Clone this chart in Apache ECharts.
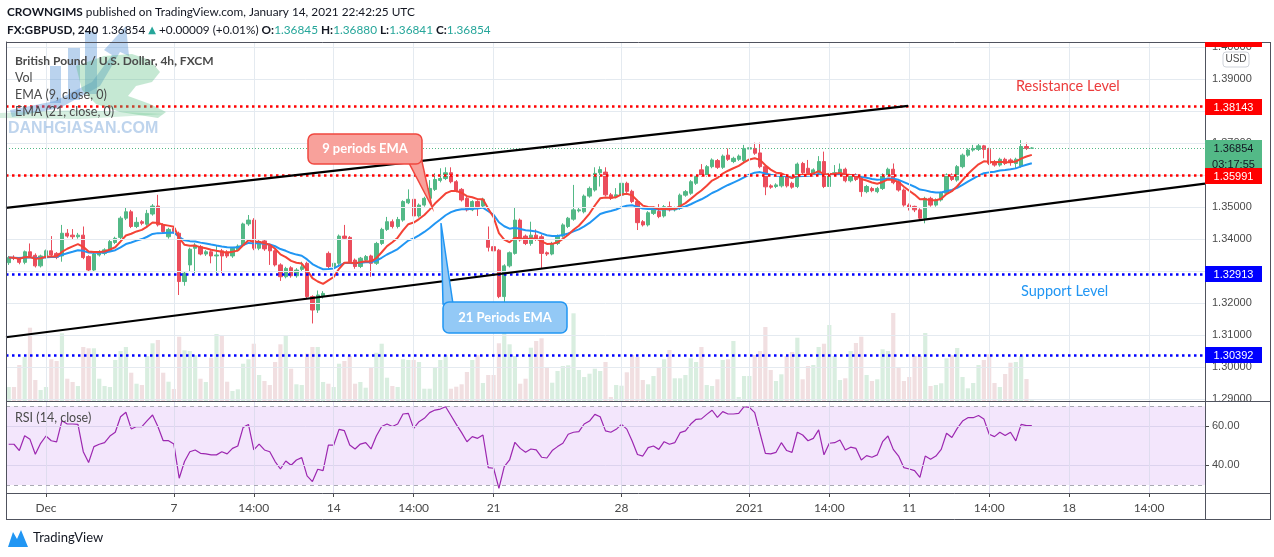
<!DOCTYPE html>
<html><head><meta charset="utf-8">
<script src="https://cdn.jsdelivr.net/npm/echarts@6/dist/echarts.min.js"></script>
<style>html,body{margin:0;padding:0;background:#fff;}#c{width:1274px;height:557px;}</style>
</head><body><div id="c"></div>
<script>
// ---------- DATA ----------
// 4h candles, [open, close, low, high]
const candles = [
[1.3327,1.3343,1.3320,1.3348],[1.3343,1.3340,1.3335,1.3350],[1.3341,1.3328,1.3322,1.3345],[1.3328,1.3361,1.3322,1.3365],[1.3361,1.3348,1.3344,1.3387],
[1.3350,1.3317,1.3312,1.3356],[1.3317,1.3348,1.3312,1.3352],[1.3346,1.3364,1.3340,1.3368],[1.3364,1.3351,1.3346,1.3410],[1.3356,1.3344,1.3338,1.3360],
[1.3348,1.3419,1.3330,1.3445],[1.3419,1.3410,1.3405,1.3432],[1.3413,1.3408,1.3400,1.3432],[1.3408,1.3413,1.3402,1.3420],[1.3413,1.3343,1.3338,1.3440],
[1.3346,1.3304,1.3298,1.3350],[1.3304,1.3354,1.3298,1.3358],[1.3351,1.3361,1.3346,1.3366],[1.3356,1.3367,1.3350,1.3372],[1.3364,1.3393,1.3360,1.3398],
[1.3390,1.3403,1.3385,1.3408],[1.3406,1.3466,1.3400,1.3472],[1.3466,1.3486,1.3460,1.3500],[1.3486,1.3440,1.3435,1.3492],[1.3440,1.3453,1.3435,1.3469],
[1.3455,1.3450,1.3444,1.3460],[1.3447,1.3481,1.3442,1.3492],[1.3479,1.3504,1.3474,1.3510],[1.3504,1.3445,1.3440,1.3539],[1.3445,1.3424,1.3418,1.3450],
[1.3408,1.3431,1.3402,1.3436],[1.3434,1.3424,1.3418,1.3440],[1.3419,1.3268,1.3226,1.3424],[1.3268,1.3294,1.3255,1.3300],[1.3320,1.3369,1.3300,1.3374],
[1.3372,1.3382,1.3294,1.3388],[1.3377,1.3354,1.3350,1.3382],[1.3354,1.3361,1.3348,1.3366],[1.3361,1.3348,1.3325,1.3366],[1.3348,1.3351,1.3294,1.3382],
[1.3364,1.3348,1.3294,1.3370],[1.3361,1.3348,1.3342,1.3366],[1.3348,1.3372,1.3342,1.3376],[1.3367,1.3379,1.3362,1.3384],[1.3382,1.3448,1.3378,1.3452],
[1.3448,1.3460,1.3442,1.3476],[1.3460,1.3372,1.3366,1.3466],[1.3372,1.3393,1.3366,1.3398],[1.3395,1.3370,1.3364,1.3400],[1.3382,1.3364,1.3320,1.3386],
[1.3364,1.3320,1.3315,1.3368],[1.3320,1.3283,1.3270,1.3325],[1.3283,1.3309,1.3278,1.3314],[1.3311,1.3286,1.3280,1.3316],[1.3286,1.3304,1.3280,1.3310],
[1.3306,1.3314,1.3300,1.3330],[1.3325,1.3221,1.3215,1.3330],[1.3221,1.3179,1.3137,1.3225],[1.3179,1.3226,1.3170,1.3240],[1.3221,1.3231,1.3215,1.3238],
[1.3356,1.3315,1.3310,1.3362],[1.3315,1.3325,1.3305,1.3330],[1.3325,1.3410,1.3320,1.3415],[1.3410,1.3403,1.3398,1.3445],[1.3406,1.3330,1.3325,1.3410],
[1.3335,1.3315,1.3308,1.3340],[1.3315,1.3341,1.3310,1.3345],[1.3335,1.3346,1.3330,1.3351],[1.3348,1.3325,1.3283,1.3352],[1.3325,1.3387,1.3320,1.3392],
[1.3387,1.3431,1.3382,1.3436],[1.3431,1.3455,1.3426,1.3470],[1.3455,1.3440,1.3434,1.3462],[1.3440,1.3462,1.3434,1.3470],[1.3460,1.3518,1.3455,1.3522],
[1.3514,1.3525,1.3510,1.3556],[1.3525,1.3473,1.3467,1.3530],[1.3473,1.3507,1.3468,1.3512],[1.3507,1.3528,1.3502,1.3533],[1.3528,1.3559,1.3523,1.3585],
[1.3556,1.3587,1.3551,1.3606],[1.3584,1.3590,1.3578,1.3622],[1.3590,1.3608,1.3585,1.3625],[1.3608,1.3580,1.3575,1.3625],[1.3580,1.3552,1.3547,1.3585],
[1.3556,1.3523,1.3518,1.3560],[1.3528,1.3492,1.3487,1.3532],[1.3492,1.3518,1.3488,1.3522],[1.3518,1.3502,1.3473,1.3522],[1.3504,1.3525,1.3498,1.3530],
[1.3398,1.3375,1.3362,1.3440],[1.3377,1.3364,1.3360,1.3382],[1.3366,1.3221,1.3216,1.3370],[1.3221,1.3317,1.3190,1.3322],[1.3317,1.3358,1.3312,1.3362],
[1.3356,1.3460,1.3352,1.3500],[1.3460,1.3398,1.3393,1.3465],[1.3410,1.3387,1.3382,1.3415],[1.3387,1.3413,1.3380,1.3455],[1.3413,1.3403,1.3395,1.3431],
[1.3408,1.3356,1.3310,1.3415],[1.3358,1.3354,1.3348,1.3362],[1.3354,1.3387,1.3350,1.3392],[1.3387,1.3410,1.3382,1.3415],[1.3410,1.3445,1.3405,1.3450],
[1.3440,1.3466,1.3435,1.3470],[1.3463,1.3492,1.3458,1.3570],[1.3489,1.3492,1.3484,1.3498],[1.3486,1.3535,1.3481,1.3540],[1.3535,1.3559,1.3530,1.3565],
[1.3554,1.3606,1.3549,1.3625],[1.3608,1.3618,1.3565,1.3628],[1.3610,1.3539,1.3534,1.3625],[1.3539,1.3528,1.3523,1.3545],[1.3533,1.3539,1.3528,1.3560],
[1.3538,1.3575,1.3533,1.3580],[1.3575,1.3550,1.3545,1.3580],[1.3550,1.3518,1.3513,1.3555],[1.3518,1.3452,1.3429,1.3523],[1.3455,1.3445,1.3440,1.3460],
[1.3445,1.3483,1.3440,1.3488],[1.3481,1.3497,1.3476,1.3502],[1.3487,1.3471,1.3466,1.3510],[1.3473,1.3502,1.3468,1.3507],[1.3502,1.3492,1.3487,1.3518],
[1.3492,1.3497,1.3487,1.3502],[1.3497,1.3538,1.3492,1.3543],[1.3538,1.3549,1.3533,1.3554],[1.3544,1.3580,1.3539,1.3585],[1.3575,1.3596,1.3570,1.3601],
[1.3617,1.3601,1.3596,1.3635],[1.3601,1.3627,1.3596,1.3632],[1.3627,1.3648,1.3622,1.3653],[1.3646,1.3625,1.3620,1.3651],[1.3625,1.3660,1.3620,1.3665],
[1.3663,1.3650,1.3645,1.3684],[1.3643,1.3653,1.3638,1.3658],[1.3650,1.3660,1.3645,1.3665],[1.3646,1.3684,1.3641,1.3695],[1.3682,1.3686,1.3677,1.3700],
[1.3684,1.3669,1.3664,1.3702],[1.3670,1.3627,1.3622,1.3702],[1.3627,1.3564,1.3538,1.3632],[1.3567,1.3563,1.3558,1.3572],[1.3565,1.3570,1.3560,1.3575],
[1.3567,1.3598,1.3562,1.3603],[1.3598,1.3567,1.3562,1.3603],[1.3575,1.3563,1.3558,1.3580],[1.3565,1.3635,1.3560,1.3640],[1.3637,1.3608,1.3603,1.3642],
[1.3622,1.3606,1.3600,1.3648],[1.3606,1.3617,1.3600,1.3622],[1.3608,1.3643,1.3603,1.3660],[1.3643,1.3565,1.3560,1.3674],[1.3565,1.3606,1.3538,1.3611],
[1.3604,1.3608,1.3598,1.3632],[1.3604,1.3619,1.3599,1.3637],[1.3619,1.3583,1.3578,1.3624],[1.3583,1.3596,1.3578,1.3601],[1.3601,1.3587,1.3582,1.3606],
[1.3591,1.3549,1.3533,1.3596],[1.3549,1.3565,1.3544,1.3570],[1.3559,1.3552,1.3547,1.3564],[1.3549,1.3559,1.3544,1.3564],[1.3559,1.3601,1.3554,1.3606],
[1.3601,1.3619,1.3596,1.3624],[1.3619,1.3577,1.3572,1.3637],[1.3580,1.3554,1.3549,1.3585],[1.3554,1.3507,1.3502,1.3559],[1.3507,1.3500,1.3490,1.3512],
[1.3503,1.3492,1.3485,1.3505],[1.3492,1.3466,1.3460,1.3497],[1.3466,1.3528,1.3450,1.3533],[1.3528,1.3507,1.3502,1.3533],[1.3507,1.3523,1.3502,1.3528],
[1.3523,1.3544,1.3518,1.3549],[1.3544,1.3601,1.3539,1.3606],[1.3601,1.3587,1.3582,1.3606],[1.3585,1.3627,1.3580,1.3632],[1.3627,1.3663,1.3622,1.3668],
[1.3663,1.3679,1.3658,1.3684],[1.3679,1.3684,1.3674,1.3695],[1.3681,1.3692,1.3676,1.3700],[1.3692,1.3681,1.3653,1.3695],[1.3681,1.3637,1.3632,1.3686],
[1.3643,1.3632,1.3627,1.3648],[1.3632,1.3650,1.3627,1.3655],[1.3650,1.3637,1.3632,1.3655],[1.3648,1.3640,1.3630,1.3653],[1.3637,1.3650,1.3620,1.3655],
[1.3629,1.3690,1.3624,1.3710],[1.3690,1.3684,1.3679,1.3702],[1.36845,1.36854,1.36841,1.36880]
];
// volume per bar (thousands)
const volume = [
14.0,14.0,36.0,44.0,73.3,21.0,11.0,14.0,41.7,40.0,
67.7,22.3,19.0,15.0,54.0,52.7,52.7,22.3,15.0,14.0,
41.0,50.0,54.0,28.3,17.3,16.0,45.0,57.7,61.0,28.3,
19.3,12.0,64.3,50.7,50.0,45.7,22.3,19.0,43.3,67.0,
65.0,19.3,10.0,11.7,37.3,41.7,57.3,26.0,20.0,16.0,
39.0,56.7,65.0,32.3,16.7,16.0,47.3,54.0,54.0,19.0,
17.3,14.0,37.3,40.0,45.0,17.3,19.0,13.3,33.3,48.3,
57.3,23.3,15.0,14.0,41.7,41.0,41.0,39.0,12.3,12.3,
34.0,41.0,45.7,12.3,14.3,16.7,29.0,41.0,45.7,18.0,
26.0,26.0,57.7,76.0,56.7,45.0,17.3,22.3,53.3,60.0,
62.7,34.0,18.3,30.0,35.0,35.7,87.7,31.0,24.0,27.3,
32.3,30.0,39.0,4.0,16.0,15.3,28.7,
46.0,44.0,21.0,16.7,25.0,34.0,41.7,51.0,22.7,22.7,
26.0,42.7,39.0,54.0,16.0,15.0,21.7,41.0,41.7,60.0,
4.0,25.0,25.0,46.0,50.0,74.0,31.0,20.0,26.7,45.0,
49.0,63.3,21.7,35.0,36.0,54.0,57.3,76.0,45.0,21.0,
22.7,50.0,58.0,64.3,26.0,20.0,21.7,51.7,50.0,88.0,
33.3,20.0,24.0,45.0,45.0,68.0,15.0,16.0,17.7,42.7,
45.7,53.0,24.0,12.7,18.0,36.0,41.0,46.7,18.0,14.0,
27.0,38.3,39.0,45.0,22.0,0.7
];
// RSI(14) per bar
const rsi = [
50.7,50.7,47.5,55.0,53.2,45.6,51.2,54.9,52.5,51.9,
62.7,61.0,61.0,60.8,46.9,41.4,49.5,50.7,51.5,54.9,
56.8,64.7,67.0,58.5,59.7,59.7,62.7,65.6,59.7,52.5,
52.5,50.8,33.4,41.9,46.9,47.8,46.1,45.8,45.3,45.3,
46.9,45.8,48.6,49.8,59.3,60.8,47.8,50.8,47.8,46.9,
41.9,38.1,42.2,40.0,42.7,43.9,34.6,31.7,38.0,37.3,
50.3,50.3,58.3,57.6,50.3,48.3,50.8,51.5,48.3,54.9,
59.7,61.0,59.7,61.0,66.1,66.4,58.8,62.2,63.9,66.8,
68.1,68.6,69.8,65.3,60.8,56.6,52.0,54.6,53.7,55.4,
38.8,38.5,28.3,39.3,42.7,51.7,48.6,46.6,48.3,47.8,
44.1,43.7,47.5,49.5,51.2,55.8,56.8,57.1,61.0,62.5,
65.9,64.7,57.5,56.8,58.3,60.8,58.4,52.4,45.5,
44.7,49.0,49.8,48.1,52.0,50.7,51.5,56.6,57.5,61.0,
63.4,63.6,65.9,68.0,64.4,67.3,66.1,66.1,66.4,69.8,
69.5,66.8,56.3,46.1,45.8,46.6,51.5,47.5,46.6,56.8,
55.4,52.5,53.7,58.0,45.3,51.2,51.5,52.9,47.8,49.2,
48.6,42.7,44.9,44.1,45.3,52.0,54.9,48.1,44.7,38.8,
38.1,37.3,33.9,44.7,43.1,44.7,48.1,56.3,54.1,58.8,
62.5,64.2,64.2,65.3,63.6,55.8,54.6,56.8,55.1,56.8,
52.4,60.8,60.2,60.2
];
const tickBars   = [7,31,46,61,76,91,115,139,154,169,184,199,214];
const tickLabels = ['Dec','7','14:00','14','14:00','21','28','2021','14:00','11','14:00','18','14:00'];
const priceTicks = [1.29,1.30,1.31,1.32,1.33,1.34,1.35,1.36,1.37,1.38,1.39,1.40];
const rsiTicks = [40,60];
const rsiBand = [30,70];
const resistanceLevels = [1.38143,1.35991];
const supportLevels = [1.32913,1.30392];
const lastPrice = 1.36854;
const countdown = '03:17:55';
const emaPeriods = [9,21];
// trend channel end points: [bar index, price]
const channelUpper = [[-0.5,1.3498],[168.8,1.3817]];
const channelLower = [[-0.5,1.3094],[224.5,1.3574]];
const N_SLOTS = 225;

// ---------- helpers ----------
function ema(vals,n){const a=2/(n+1);let e=vals[0];return vals.map((v,i)=>{e=i===0?v:a*v+(1-a)*e;return +e.toFixed(5);});}
const closes = candles.map(c=>c[1]);
const cats = Array.from({length:N_SLOTS},(_,i)=>String(i));
const labelMap = {}; tickBars.forEach((b,i)=>labelMap[b]=tickLabels[i]);
const UP='#53b987', DN='#eb4d5c';

const chart = echarts.init(document.getElementById('c'),null,{renderer:'canvas'});
const option = {
  animation:false,
  backgroundColor:'#ffffff',
  grid:[{left:6,top:42,width:1199,height:359},{left:6,top:402,width:1199,height:91}],
  xAxis:[
    {type:'category',gridIndex:0,data:cats,boundaryGap:true,show:false},
    {type:'category',gridIndex:1,data:cats,boundaryGap:true,
      axisLine:{show:false},
      axisTick:{show:true,alignWithLabel:true,length:4,interval:(i)=>labelMap[i]!==undefined,lineStyle:{color:'#4a4a4a'}},
      axisLabel:{interval:(i)=>labelMap[i]!==undefined,formatter:(v,i)=>labelMap[i]||'',color:'#4a4a4a',fontSize:12,fontFamily:'Lato',margin:9},
      splitLine:{show:false}},
    {type:'value',gridIndex:0,min:0,max:N_SLOTS,show:false}
  ],
  yAxis:[
    {type:'value',gridIndex:0,position:'right',min:1.28947,max:1.40166,scale:true,
      axisLine:{show:true,lineStyle:{color:'#4a4a4a'}},
      axisTick:{show:true,length:4,customValues:priceTicks,lineStyle:{color:'#4a4a4a'}},
      axisLabel:{customValues:priceTicks,formatter:v=>v.toFixed(5),color:'#4a4a4a',fontSize:11,fontFamily:'Liberation Sans',margin:7},
      splitLine:{show:false}},
    {type:'value',gridIndex:1,position:'right',min:25.9,max:72.2,
      axisLine:{show:true,lineStyle:{color:'#4a4a4a'}},
      axisTick:{show:true,length:4,customValues:rsiTicks,lineStyle:{color:'#4a4a4a'}},
      axisLabel:{customValues:rsiTicks,formatter:v=>v.toFixed(2),color:'#4a4a4a',fontSize:11,fontFamily:'Liberation Sans',margin:7},
      splitLine:{show:false}},
    {type:'value',gridIndex:0,min:0,max:359,show:false}
  ],
  series:[
    // main grid lines
    {type:'line',xAxisIndex:0,yAxisIndex:0,data:[],z:0,silent:true,
      markLine:{symbol:'none',silent:true,precision:5,label:{show:false},animation:false,
        lineStyle:{color:'#e4eaf0',type:'solid',width:1},
        data:priceTicks.map(v=>({yAxis:v})).concat(tickBars.map(b=>({xAxis:b})))}},
    // volume
    {type:'bar',xAxisIndex:0,yAxisIndex:2,barWidth:4.2,z:1,silent:true,
      data:volume.map((v,i)=>({value:v,itemStyle:{color:candles[i][1]>=candles[i][0]?'#d9eee0':'#f1dfe1'}}))},
    // rsi band
    {type:'line',xAxisIndex:1,yAxisIndex:1,data:[],z:0,silent:true,
      markArea:{silent:true,itemStyle:{color:'#f3e6fc'},data:[[{yAxis:rsiBand[0]},{yAxis:rsiBand[1]}]]}},
    // rsi grid lines
    {type:'line',xAxisIndex:1,yAxisIndex:1,data:[],z:1,silent:true,
      markLine:{symbol:'none',silent:true,precision:5,label:{show:false},animation:false,
        data:rsiTicks.map(v=>({yAxis:v,lineStyle:{color:'#dcd3ee',type:'solid',width:1}}))
          .concat(tickBars.map(b=>({xAxis:b,lineStyle:{color:'#dfdcef',type:'solid',width:1}})))
          .concat(rsiBand.map(v=>({yAxis:v,lineStyle:{color:'#a9a9b3',type:[4,4],width:1}})))}},
    // candles
    {type:'candlestick',xAxisIndex:0,yAxisIndex:0,data:candles,barWidth:3.8,z:3,silent:true,
      itemStyle:{color:UP,color0:DN,borderColor:UP,borderColor0:DN,borderWidth:1}},
    // EMAs
    {type:'line',xAxisIndex:0,yAxisIndex:0,data:ema(closes,emaPeriods[1]),symbol:'none',z:4,silent:true,
      lineStyle:{color:'#2196f3',width:2}},
    {type:'line',xAxisIndex:0,yAxisIndex:0,data:ema(closes,emaPeriods[0]),symbol:'none',z:4,silent:true,
      lineStyle:{color:'#f44336',width:2}},
    // level lines
    {type:'line',xAxisIndex:0,yAxisIndex:0,data:[],z:5,silent:true,
      markLine:{symbol:'none',silent:true,precision:5,label:{show:false},animation:false,
        data:resistanceLevels.map(v=>({yAxis:v,lineStyle:{color:'#ff0000',type:[2.5,3.5],width:2.5}}))
          .concat(supportLevels.map(v=>({yAxis:v,lineStyle:{color:'#0000ff',type:[2.5,3.5],width:2.5}})))
          .concat([{yAxis:lastPrice,lineStyle:{color:'#53b987',type:[1,2],width:1}}])}},
    // channel
    {type:'line',xAxisIndex:2,yAxisIndex:0,data:channelUpper.map(p=>[p[0]+0.5,p[1]]),symbol:'none',z:6,silent:true,
      lineStyle:{color:'#000',width:2.2}},
    {type:'line',xAxisIndex:2,yAxisIndex:0,data:channelLower.map(p=>[p[0]+0.5,p[1]]),symbol:'none',z:6,silent:true,
      lineStyle:{color:'#000',width:2.2}},
    // RSI
    {type:'line',xAxisIndex:1,yAxisIndex:1,data:rsi,symbol:'none',z:4,silent:true,
      lineStyle:{color:'#9c27b0',width:1.2}}
  ]
};
chart.setOption(option);

// ---------- overlay graphics ----------
const G=[];
const FONT='Lato, "Liberation Sans", sans-serif';
function text(x,y,t,st,z){G.push({type:'text',x:x,y:y,silent:true,z:z||80,style:Object.assign({text:t,fill:'#131722',fontSize:13,fontFamily:FONT,align:'left',verticalAlign:'middle'},st||{})});}
function line(x1,y1,x2,y2,c,w,z){G.push({type:'line',silent:true,z:z||70,shape:{x1:x1,y1:y1,x2:x2,y2:y2},style:{stroke:c,lineWidth:w||1}});}
function rect(x,y,w,h,st,z,r){G.push({type:'rect',silent:true,z:z||75,shape:{x:x,y:y,width:w,height:h,r:r||0},style:st});}
function poly(pts,st,z){G.push({type:'polygon',silent:true,z:z||40,shape:{points:pts},style:st});}

// watermark (semi-transparent logo)
const wmB='rgba(90,150,215,0.42)', wmG='rgba(90,190,130,0.35)';
rect(50,66,11,37,{fill:wmB},40);
rect(68,48,12,52,{fill:wmB},40);
rect(85,32,12,62,{fill:wmB},40);
poly([[10,110],[55,101],[92,82],[112,55],[104,50],[126,26],[129,56],[120,52],[100,86],[60,108],[12,117]],{fill:wmB},40);
poly([[76,66],[104,56],[132,54],[150,60],[160,72],[152,82],[136,86],[128,96],[150,104],[166,112],[158,118],[120,112],[96,104],[82,90]],{fill:wmG},40);
poly([[0,113],[80,110],[165,114],[80,119],[0,118]],{fill:'rgba(90,190,130,0.25)'},40);
text(8,129,'DANHGIASAN.COM',{fill:'rgba(110,160,215,0.45)',fontSize:16,fontWeight:'bold',fontFamily:'"Liberation Sans", sans-serif'},41);

// header
const HS=11.8;
const HR={b:{fontWeight:'bold',fontSize:HS,fontFamily:FONT,fill:'#131722'},r:{fontSize:HS,fontFamily:FONT,fill:'#131722'},
  t:{fontSize:HS,fontFamily:FONT,fill:'#26a69a'},a:{fontSize:10,fontFamily:'"DejaVu Sans", sans-serif',fill:'#26a69a'}};
text(7,12,'{b|CROWNGIMS}{r| published on TradingView.com, January 14, 2021 22:42:25 UTC}',{rich:HR});
text(7,30,'{b|FX:GBPUSD, 240}{r| 1.36854 }{a|\u25B2}{r| +0.00009 (+0.01%) }{b|O:}{t|1.36845}{r| }{b|H:}{t|1.36880}{r| }{b|L:}{t|1.36841}{r| }{b|C:}{t|1.36854}',{rich:HR});

// legend
text(15,61,'British Pound / U.S. Dollar, 4h, FXCM',{fill:'#4a4a4a',fontWeight:'bold',fontSize:12});
text(15,78,'Vol',{fill:'#4a4a4a',fontSize:12.5});
text(15,95,'EMA (9, close, 0)',{fill:'#4a4a4a',fontSize:12.5});
text(15,112,'EMA (21, close, 0)',{fill:'#4a4a4a',fontSize:12.5});
text(15,418,'RSI (14, close)',{fill:'#4a4a4a',fontSize:12.5});

// annotations
text(1016,86,'Resistance Level',{fill:'#ec3c3c',fontSize:14.5});
text(1021,291,'Support Level',{fill:'#2196f3',fontSize:14.5});

// callouts
poly([[409,163],[421,157],[432,207]],{fill:'#f8a19b',stroke:'#f0473f',lineWidth:1.5},85);
rect(308,134,114,30,{fill:'#f8a19b',stroke:'#f0473f',lineWidth:1.5},86,6);
text(365,149,'9 periods EMA',{fill:'#ffffff',fontWeight:'bold',align:'center'},95);
poly([[441,223],[443,304],[453,304]],{fill:'#93c9f6',stroke:'#2196f3',lineWidth:1.5},85);
rect(443,302,124,31,{fill:'#93c9f6',stroke:'#2196f3',lineWidth:1.5},86,6);
text(505,318,'21 Periods EMA',{fill:'#ffffff',fontWeight:'bold',align:'center'},95);

// price axis boxes
const yOf = v => chart.convertToPixel({yAxisIndex:0}, v);
const AX_FONT='"Liberation Sans", sans-serif';
function box(v,fill,tc,label){const y=Math.round(yOf(v));rect(1205,y-8,57,16,{fill:fill},90);text(1233.5,y+0.5,label,{fill:tc,fontSize:11,fontFamily:AX_FONT,align:'center'},96);}
rect(1205,42,57,5,{fill:'#ff0000'},90);
rect(1205,Math.round(yOf(lastPrice))+8,57,16,{fill:'#53b987'},88);
text(1233.5,Math.round(yOf(lastPrice))+16.5,countdown,{fill:'#131722',fontSize:11,fontFamily:AX_FONT,align:'center'},89);
box(lastPrice,'#53b987','#131722',lastPrice.toFixed(5));
resistanceLevels.forEach(v=>box(v,'#ff0000','#ffffff',v.toFixed(5)));
supportLevels.forEach(v=>box(v,'#0000ff','#ffffff',v.toFixed(5)));
rect(1223,52,26,15,{fill:'#ffffff',stroke:'#cfd3da',lineWidth:1},90,3);
text(1236,59.5,'USD',{fill:'#4a4a4a',fontSize:10,fontFamily:AX_FONT,align:'center'},96);

// frame
const FC='#50535e';
line(6,42.5,1271,42.5,FC,1);
line(6.5,42,6.5,520,FC,1);
line(1270.5,42,1270.5,520,FC,1);
line(6,519.5,1271,519.5,FC,1);
line(6,401.5,1271,401.5,FC,1);
line(6,493.5,1271,493.5,FC,1);
line(1205.5,42,1205.5,520,FC,1);

// TradingView logo
poly([[8,547],[13,532],[17,539],[21,530],[28,547]],{fill:'#2196f3'},80);
text(33,538,'TradingView',{fill:'#131722',fontSize:13});

chart.setOption({graphic:G});
</script></body></html>
